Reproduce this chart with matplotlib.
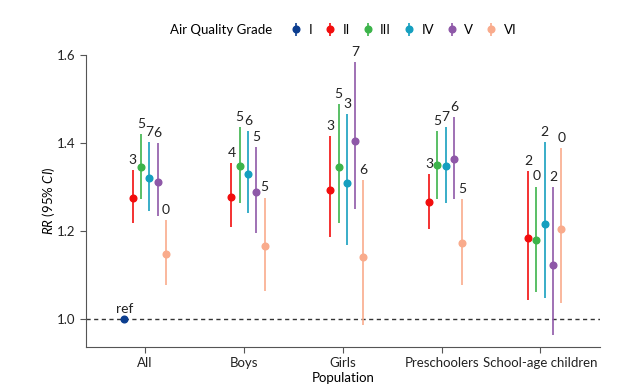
import numpy as np
import matplotlib.pyplot as plt

plt.rcParams['font.family'] = ['Lato', 'DejaVu Sans']
plt.rcParams['mathtext.fontset'] = 'custom'
plt.rcParams['mathtext.it'] = 'Lato:italic'
plt.rcParams['mathtext.rm'] = 'Lato'

# categories and grades
groups = ['All', 'Boys', 'Girls', 'Preschoolers', 'School-age children']
grades = ['I', 'II', 'III', 'IV', 'V', 'VI']
colors = ['#0b3d8f', '#f20d0d', '#3cb44a', '#159fbf', '#8e58a8', '#f9ab8c']

# RR point estimates (rows: grade, cols: group); NaN = not shown
rr = np.array([
    [1.000, np.nan, np.nan, np.nan, np.nan],
    [1.276, 1.278, 1.293, 1.266, 1.183],
    [1.346, 1.348, 1.346, 1.349, 1.179],
    [1.320, 1.330, 1.308, 1.348, 1.215],
    [1.312, 1.288, 1.405, 1.363, 1.122],
    [1.148, 1.166, 1.141, 1.173, 1.204],
])
lo = np.array([
    [1.000, np.nan, np.nan, np.nan, np.nan],
    [1.219, 1.208, 1.187, 1.204, 1.043],
    [1.273, 1.264, 1.218, 1.272, 1.062],
    [1.246, 1.240, 1.169, 1.264, 1.048],
    [1.234, 1.195, 1.250, 1.272, 0.964],
    [1.077, 1.063, 0.986, 1.077, 1.037],
])
hi = np.array([
    [1.000, np.nan, np.nan, np.nan, np.nan],
    [1.339, 1.354, 1.415, 1.329, 1.337],
    [1.421, 1.437, 1.489, 1.428, 1.301],
    [1.403, 1.428, 1.466, 1.436, 1.403],
    [1.399, 1.390, 1.585, 1.460, 1.299],
    [1.224, 1.276, 1.316, 1.272, 1.389],
])
labels = [
    ['ref', '', '', '', ''],
    ['3', '4', '3', '3', '2'],
    ['5', '5', '5', '5', '0'],
    ['7', '6', '3', '7', '2'],
    ['6', '5', '7', '6', '2'],
    ['0', '5', '6', '5', '0'],
]

fig = plt.figure(figsize=(6.26, 3.91), dpi=100)
ax = fig.add_axes([0.137, 0.1125, 0.821, 0.7465])

x = np.arange(len(groups))
step = 0.084
handles = []
for i, g in enumerate(grades):
    xi = x + (i - 2.5) * step
    m = ~np.isnan(rr[i])
    h = ax.errorbar(xi[m], rr[i][m], yerr=[rr[i][m] - lo[i][m], hi[i][m] - rr[i][m]],
                    fmt='o', color=colors[i], ms=4.8, elinewidth=1.4, capsize=0,
                    ecolor=colors[i], label=g)
    h[2][0].set_alpha(0.85)
    handles.append(h)
    for j in np.where(m)[0]:
        ax.annotate(labels[i][j], (xi[j], hi[i][j]), xytext=(0, 3),
                    textcoords='offset points', ha='center', va='bottom',
                    fontsize=10, color='#222222')

ax.axhline(1.0, color='#333333', ls='--', lw=1, dashes=(3, 2.5), zorder=0)

ax.set_xlim(-0.6, 4.6)
ax.set_ylim(0.936, 1.6)
ax.set_yticks([1.0, 1.2, 1.4, 1.6])
ax.set_yticklabels(['1.0', '1.2', '1.4', '1.6'])
ax.set_xticks(x)
ax.set_xticklabels(groups)
ax.tick_params(labelsize=9.5, length=4, color='#555555', labelcolor='#222222')
for s in ['top', 'right']:
    ax.spines[s].set_visible(False)
for s in ['left', 'bottom']:
    ax.spines[s].set_color('#555555')

ax.set_xlabel('Population', fontsize=9.5, labelpad=2)
ax.set_ylabel(r'$RR$ (95% $CI$)', fontsize=9.5)
ax.yaxis.set_label_coords(-0.055, 0.5)

fig.text(0.435, 0.923, 'Air Quality Grade', fontsize=9.5, ha='right', va='center')
fig.legend(handles=handles, loc='center left', bbox_to_anchor=(0.455, 0.923),
           ncol=6, frameon=False, fontsize=9.5, handlelength=0.7,
           handletextpad=0.6, columnspacing=1.0, borderpad=0)

fig.savefig('out.png', dpi=100)
